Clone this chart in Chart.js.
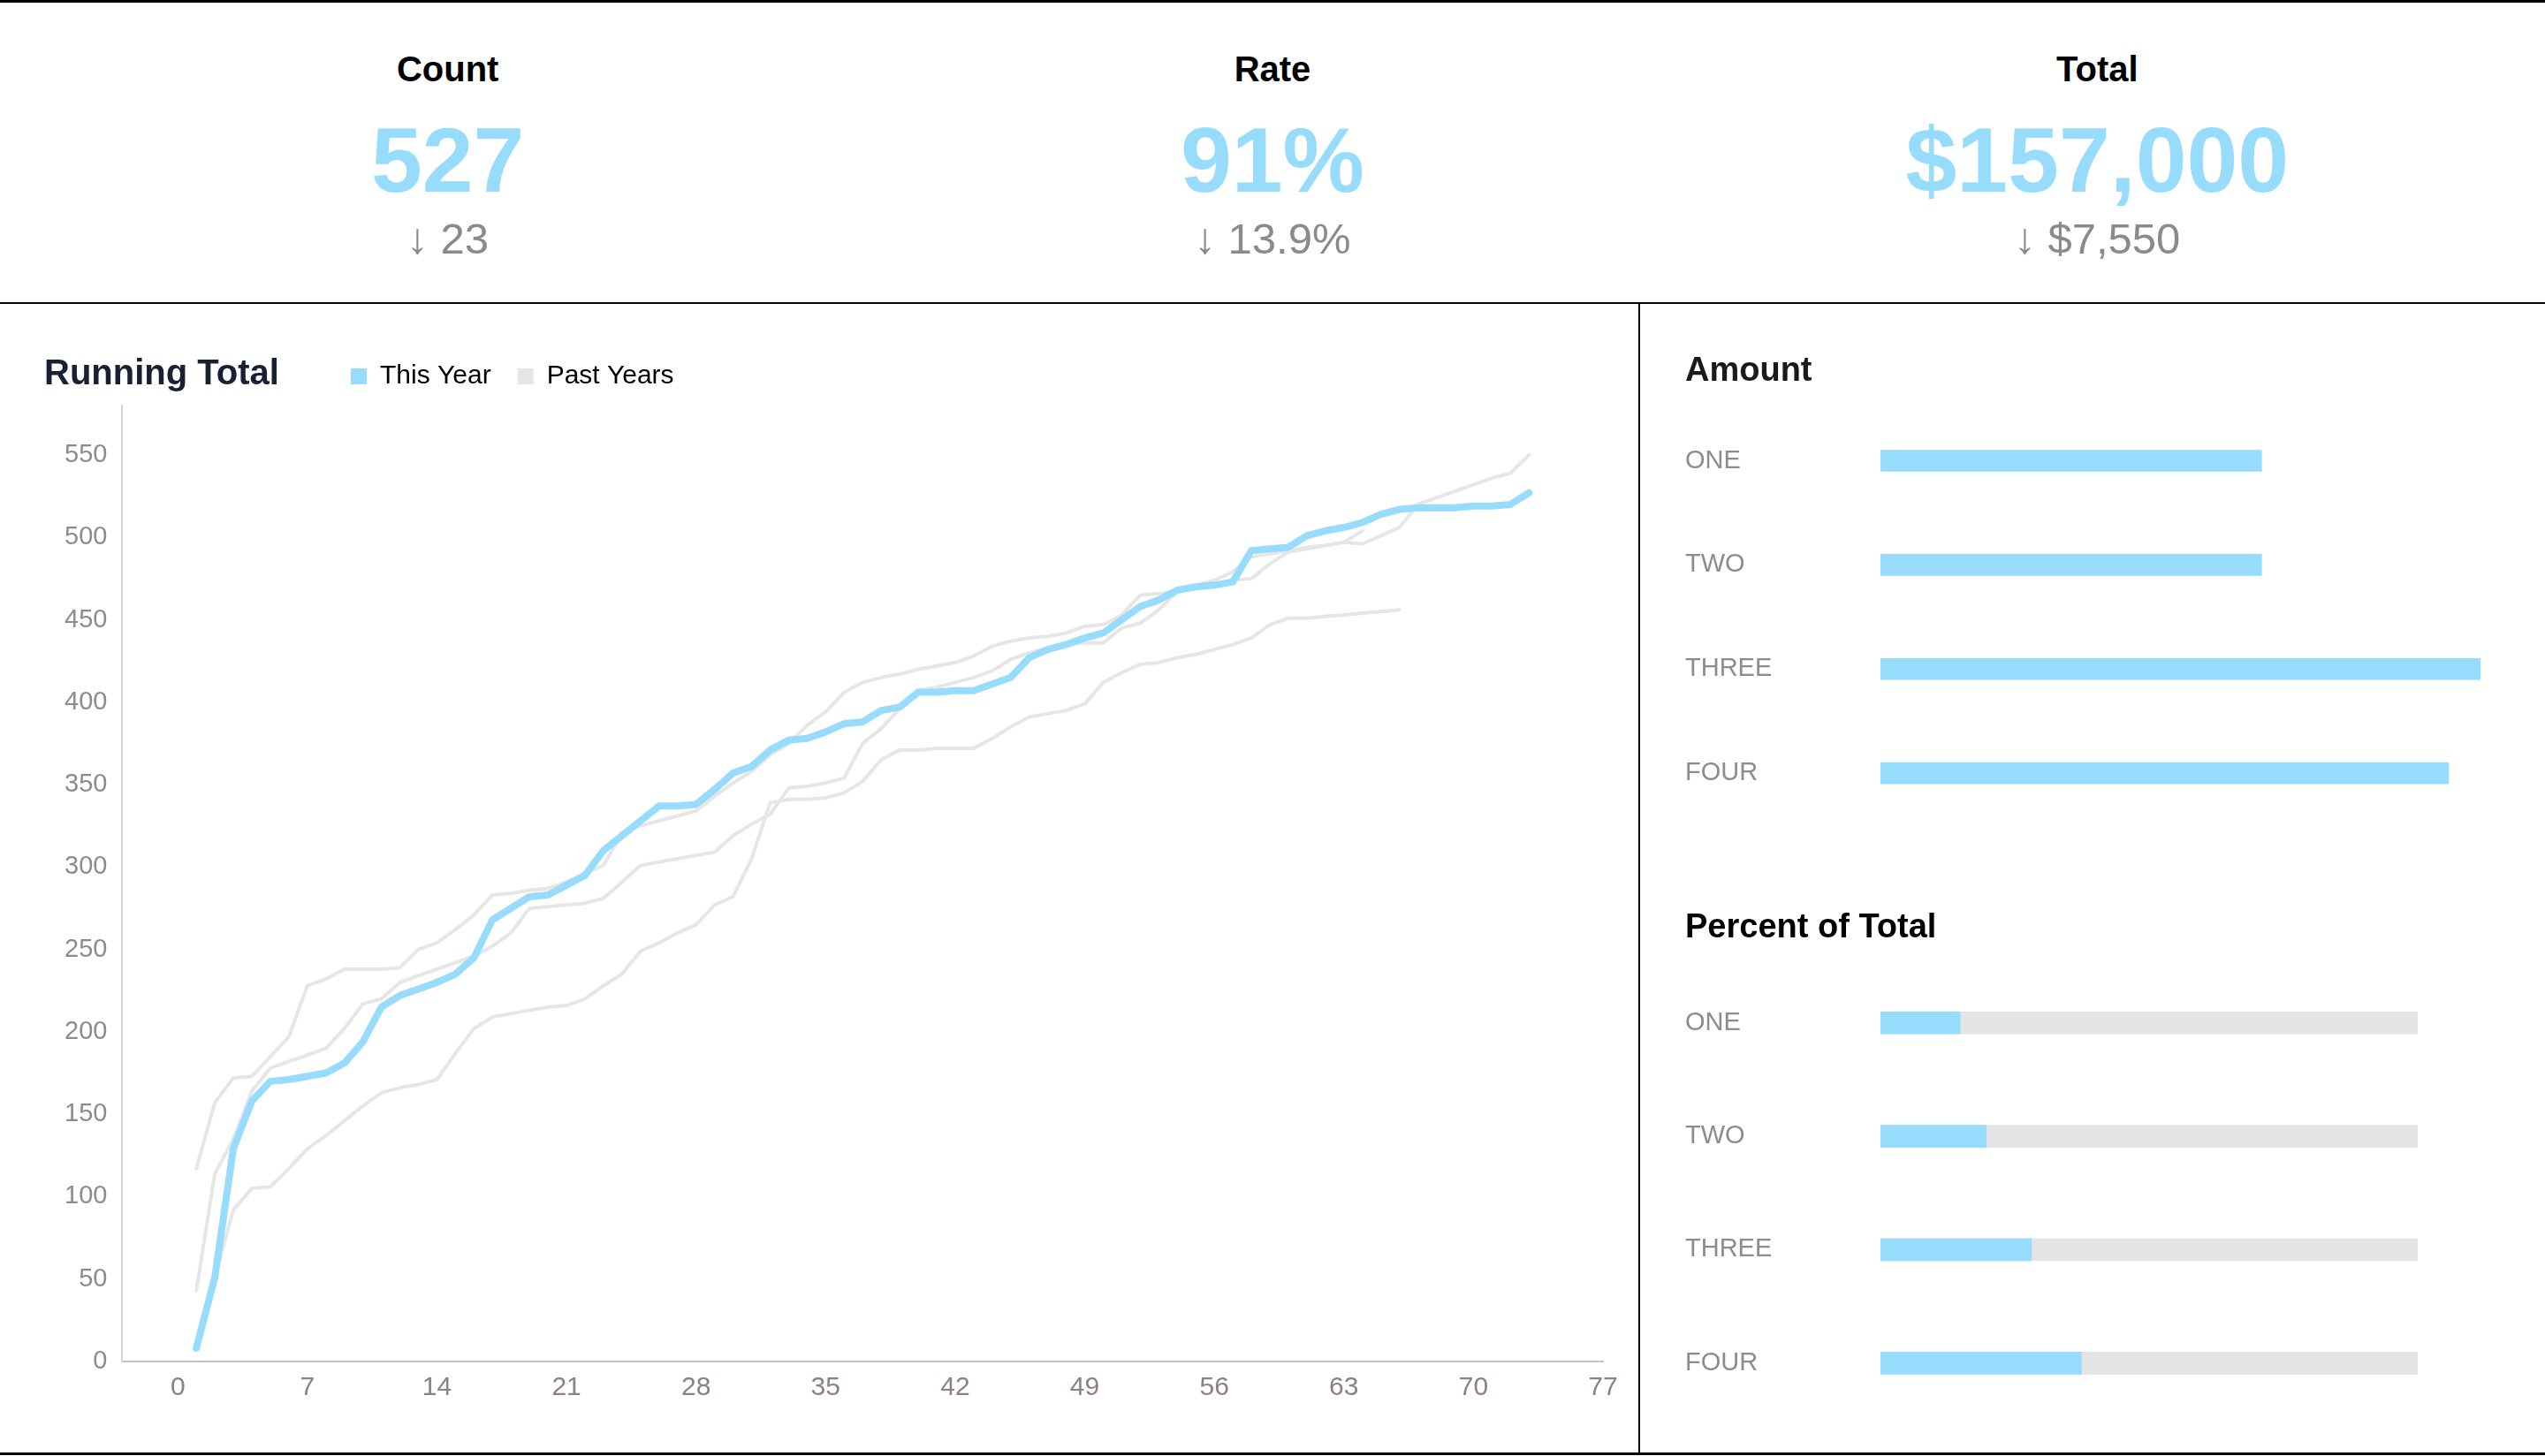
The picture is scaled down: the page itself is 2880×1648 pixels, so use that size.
<!DOCTYPE html>
<html lang="en">
<head>
<meta charset="utf-8">
<title>Running Total dashboard</title>
<script src="https://cdn.jsdelivr.net/npm/chart.js@4.4.1/dist/chart.umd.min.js"></script>
<style>
  html, body { margin: 0; padding: 0; background: #ffffff; }
  body {
    position: relative;
    width: 2880px;
    height: 1648px;
    overflow: hidden;
    font-family: 'Liberation Sans', Arial, Helvetica, sans-serif;
  }
  .rule { position: absolute; background: #000000; }
  .kpi { position: absolute; top: 0; width: 933.33px; height: 342px; text-align: center; }
  .kpi div { position: absolute; left: 0; right: 0; white-space: nowrap; }
  .kpi .label { top: 58px; font-size: 40px; line-height: 40px; font-weight: 700; color: #000000; }
  .kpi .value { top: 129px; font-size: 104px; line-height: 104px; font-weight: 700; color: #97dcfd; }
  .kpi .delta { top: 246px; font-size: 49px; line-height: 49px; color: #8a8a8a; }
  .panel { position: absolute; }
  .panel-title { position: absolute; left: 50px; top: 401px; font-size: 40px; line-height: 40px; font-weight: 700; color: #172133; }
</style>
</head>
<body>
  <div class="rule" style="left:0;top:0;width:2880px;height:3px"></div>
  <div class="rule" style="left:0;top:342px;width:2880px;height:2px"></div>
  <div class="rule" style="left:1854px;top:344px;width:2px;height:1300px"></div>
  <div class="rule" style="left:0;top:1644px;width:2880px;height:3px"></div>

  <div id="kpis"></div>

  <div class="panel" style="left:0;top:344px;width:1854px;height:1300px"><canvas id="runningTotal"></canvas></div>
  <div class="panel-title">Running Total</div>
  <div class="panel" style="left:1857px;top:344px;width:1023px;height:640px"><canvas id="amount"></canvas></div>
  <div class="panel" style="left:1857px;top:984px;width:1023px;height:660px"><canvas id="percent"></canvas></div>

<script>
const kpiLabels = ['Count', 'Rate', 'Total'];
const kpiValues = ['527', '91%', '$157,000'];
const kpiChanges = ['23', '13.9%', '$7,550'];

// running totals, one value per day starting at day 1
const thisYear = [
  8, 51, 129, 158, 170, 171, 173, 175, 181, 194,
  215, 222, 226, 230, 235, 245, 268, 275, 282, 283,
  289, 295, 310, 319, 328, 337, 337, 338, 347, 357,
  361, 371, 377, 378, 382, 387, 388, 395, 397, 406,
  406, 407, 407, 411, 415, 427, 432, 435, 439, 442,
  450, 458, 462, 468, 470, 471, 473, 492, 493, 494,
  501, 504, 506, 509, 514, 517, 518, 518, 518, 519,
  519, 520, 527
];
const pastYearA = [
  117, 157, 172, 173, 185, 197, 228, 232, 238, 238,
  238, 239, 250, 254, 262, 271, 283, 284, 286, 287,
  291, 296, 301, 321, 325, 328, 331, 334, 343, 351,
  358, 368, 375, 386, 394, 406, 412, 415, 417, 420,
  422, 424, 428, 434, 437, 439, 440, 442, 446, 447,
  453, 465, 466, 467, 471, 474, 479, 488, 490, 492,
  494, 495, 497, 504
];
const pastYearB = [
  43, 114, 135, 164, 178, 182, 186, 190, 202, 217,
  220, 230, 234, 238, 242, 246, 252, 260, 275, 276,
  277, 278, 281, 291, 301, 303, 305, 307, 309, 319,
  326, 332, 348, 349, 351, 354, 375, 384, 396, 407,
  409, 412, 415, 419, 426, 430, 433, 435, 436, 436,
  445, 448, 456, 467, 470, 471, 474, 475, 484, 491,
  493, 495, 497, 496, 501, 506, 520, 524, 528, 532,
  536, 539, 550
];
const pastYearC = [
  8, 51, 92, 105, 106, 117, 129, 137, 146, 155,
  163, 166, 168, 171, 187, 202, 209, 211, 213, 215,
  216, 220, 228, 235, 249, 254, 260, 265, 277, 282,
  305, 339, 341, 341, 342, 345, 352, 365, 371, 371,
  372, 372, 372, 378, 385, 391, 393, 395, 399, 412,
  418, 423, 424, 427, 429, 432, 435, 439, 447, 451,
  451, 452, 453, 454, 455, 456
];

const dayTicks = [0, 7, 14, 21, 28, 35, 42, 49, 56, 63, 70, 77];
const totalTicks = [0, 50, 100, 150, 200, 250, 300, 350, 400, 450, 500, 550];

const categories = ['ONE', 'TWO', 'THREE', 'FOUR'];
const amounts = [31000, 31000, 48800, 46200];
const percents = [14.8, 19.7, 28.1, 37.4];
const percentWhole = [100, 100, 100, 100];

const BLUE = '#97dcfd';
const GREY_LINE = '#e6e6e6';
const GREY_TRACK = '#e4e4e4';
const TICK_GREY = '#8c8c8c';

Chart.defaults.font.family = "'Liberation Sans', Arial, Helvetica, sans-serif";
Chart.defaults.animation = false;

// KPI strip
const kpiBox = document.getElementById('kpis');
kpiLabels.forEach((label, i) => {
  const col = document.createElement('div');
  col.className = 'kpi';
  col.style.left = (40 + i * 933.33) + 'px';
  col.innerHTML = `<div class="label">${label}</div>` +
    `<div class="value">${kpiValues[i]}</div>` +
    `<div class="delta">\u2193 ${kpiChanges[i]}</div>`;
  kpiBox.appendChild(col);
});

const toPoints = values => values.map((v, i) => ({ x: i + 1, y: v }));

function lineSet(label, values, color, width) {
  return {
    label,
    data: toPoints(values),
    borderColor: color,
    backgroundColor: color,
    borderWidth: width,
    pointRadius: 0,
    pointHoverRadius: 0,
    tension: 0,
    borderCapStyle: 'round',
    borderJoinStyle: 'round',
    fill: false
  };
}

// legend shares the row with the HTML title: slide it right and a bit up
const legendOffset = {
  id: 'legendOffset',
  afterUpdate(chart) {
    const legend = chart.legend;
    const dx = 397 - (legend.left + legend.options.labels.padding);
    const dy = -8;
    legend.left += dx;
    legend.right += dx;
    legend.top += dy;
    legend.bottom += dy;
    legend.adjustHitBoxes();
  }
};

new Chart(document.getElementById('runningTotal'), {
  type: 'line',
  data: {
    datasets: [
      lineSet('This Year', thisYear, BLUE, 8),
      lineSet('Past Years', pastYearA, GREY_LINE, 4),
      lineSet('Past Years', pastYearB, GREY_LINE, 4),
      lineSet('Past Years', pastYearC, GREY_LINE, 4)
    ]
  },
  options: {
    responsive: true,
    maintainAspectRatio: false,
    layout: { padding: { top: 45, left: 56, right: 40, bottom: 43 } },
    plugins: {
      legend: {
        position: 'top',
        align: 'start',
        labels: {
          font: { size: 30 },
          color: '#111111',
          boxWidth: 18,
          boxHeight: 18,
          padding: 30,
          generateLabels(chart) {
            const seen = new Set();
            return chart.data.datasets.reduce((items, ds, i) => {
              if (!seen.has(ds.label)) {
                seen.add(ds.label);
                items.push({ text: ds.label, fillStyle: ds.borderColor, strokeStyle: ds.borderColor, lineWidth: 0, hidden: false, datasetIndex: i });
              }
              return items;
            }, []);
          }
        }
      },
      tooltip: { enabled: false }
    },
    scales: {
      x: {
        type: 'linear',
        min: -3,
        max: 77,
        afterBuildTicks: axis => { axis.ticks = dayTicks.map(value => ({ value })); },
        grid: { display: false, drawTicks: false },
        border: { display: true, color: '#c8c3c3', width: 2 },
        ticks: { font: { size: 30 }, color: '#8f8080', padding: 12, maxRotation: 0, autoSkip: false }
      },
      y: {
        min: 0,
        max: 580,
        afterBuildTicks: axis => { axis.ticks = totalTicks.map(value => ({ value })); },
        grid: { display: false, drawTicks: false },
        border: { display: true, color: '#d4d4d4', width: 2 },
        ticks: { font: { size: 29 }, color: TICK_GREY, padding: 17 }
      }
    }
  },
  plugins: [legendOffset]
});

function categoryAxis() {
  return {
    grid: { display: false, drawTicks: false },
    border: { display: false },
    ticks: { font: { size: 29 }, color: TICK_GREY, crossAlign: 'far', padding: 0 },
    afterFit: scale => { scale.width = 221; }
  };
}

new Chart(document.getElementById('amount'), {
  type: 'bar',
  data: {
    labels: categories,
    datasets: [{ label: 'Amount', data: amounts, backgroundColor: BLUE, barThickness: 24 }]
  },
  options: {
    indexAxis: 'y',
    responsive: true,
    maintainAspectRatio: false,
    layout: { padding: { top: 54, left: 50, right: 73, bottom: 50 } },
    plugins: {
      legend: { display: false },
      tooltip: { enabled: false },
      title: {
        display: true, text: 'Amount', align: 'start', color: '#1a1a1a',
        font: { size: 38, weight: 'bold' }, padding: { top: 0, bottom: 19 }
      }
    },
    scales: {
      x: { display: false, min: 0, max: Math.max(...amounts) },
      y: categoryAxis()
    }
  }
});

new Chart(document.getElementById('percent'), {
  type: 'bar',
  data: {
    labels: categories,
    datasets: [
      { label: 'Share', data: percents, backgroundColor: BLUE, barThickness: 25, grouped: false },
      { label: 'Whole', data: percentWhole, backgroundColor: GREY_TRACK, barThickness: 25, grouped: false }
    ]
  },
  options: {
    indexAxis: 'y',
    responsive: true,
    maintainAspectRatio: false,
    layout: { padding: { top: 44, left: 50, right: 144, bottom: 37 } },
    plugins: {
      legend: { display: false },
      tooltip: { enabled: false },
      title: {
        display: true, text: 'Percent of Total', align: 'start', color: '#000000',
        font: { size: 38, weight: 'bold' }, padding: { top: 0, bottom: 20 }
      }
    },
    scales: {
      x: { display: false, min: 0, max: 100 },
      y: categoryAxis()
    }
  }
});
</script>
</body>
</html>
